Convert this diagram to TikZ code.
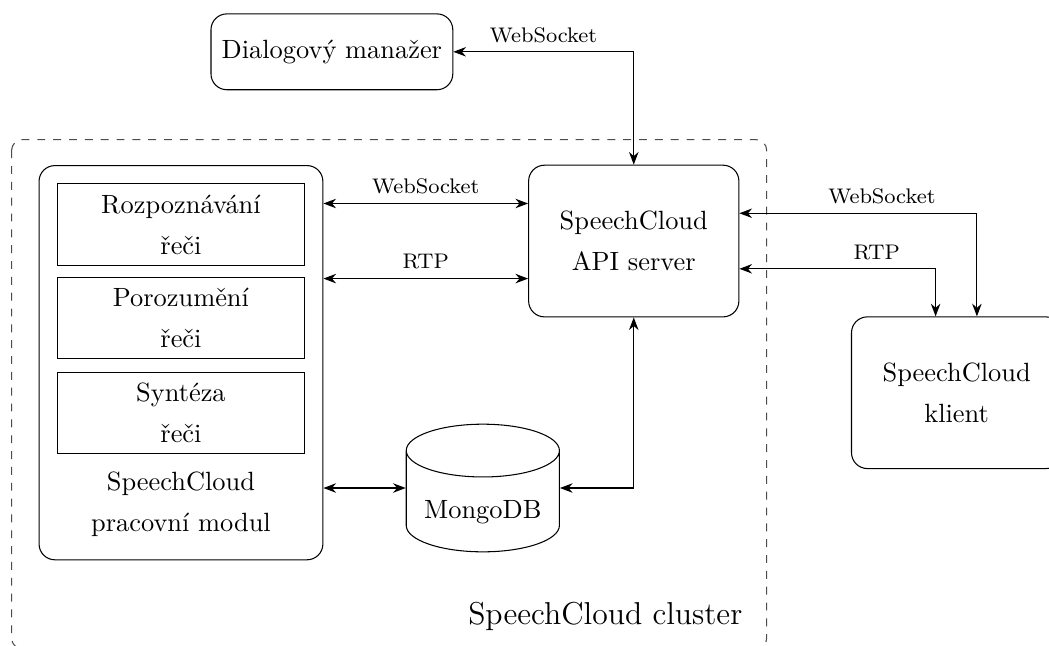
\documentclass[tikz,border=0pt]{standalone}
\usepackage{fontspec}
\usetikzlibrary{arrows.meta,shapes.geometric}

\tikzset{
  box/.style={draw, rounded corners=6pt, align=center},
  part/.style={draw, minimum width=3.30cm, minimum height=1.08cm, align=center},
  conn/.style={<->, >={Stealth}},
  lbl/.style={font=\footnotesize, above}
}

\begin{document}
\begin{tikzpicture}
        \useasboundingbox (0,0) rectangle (13.97,-8.60);
        \draw[dashed, black!70, rounded corners=4pt] (0.155,-1.86) rectangle (10.21,-8.64);
        \node[anchor=base east, font=\large] (clusterlbl) at (10.01,-8.31) {SpeechCloud cluster};

        \node[box, minimum width=3.22cm, minimum height=1.01cm] (dialog) at (4.42,-0.69) {Dialogový manažer};
        \node[box, minimum width=2.80cm, minimum height=2.02cm] (api) at (8.44,-3.21) {SpeechCloud\\[3.5pt]API server};
        \node[box, minimum width=2.80cm, minimum height=2.02cm] (klient) at (12.74,-5.23) {SpeechCloud\\[3.5pt]klient};

        \node[box, minimum width=3.78cm, minimum height=5.25cm] (worker) at (2.41,-4.83) {};
        \node[part] (asr) at (2.41,-2.99) {Rozpoznávání\\[3.5pt]řeči};
        \node[part] (nlu) at (2.41,-4.24) {Porozumění\\[3.5pt]řeči};
        \node[part] (tts) at (2.41,-5.50) {Syntéza\\[3.5pt]řeči};
        \node[align=center] (workerlbl) at (2.41,-6.72) {SpeechCloud\\[3.5pt]pracovní modul};

        % databaze
        \node[draw, cylinder, shape border rotate=90, aspect=3.0, minimum width=2.04cm, minimum height=1.70cm] (mongo) at (6.43,-6.76) {};
        \node (mongolbl) at (6.43,-6.82) {MongoDB};
        \coordinate (mongomid) at (mongo.shape center);

        \coordinate (wsin) at ([yshift=0.5cm]api.west);
        \coordinate (rtpin) at ([yshift=-0.5cm]api.west);
        \coordinate (wsout) at ([yshift=0.37cm]api.east);
        \coordinate (rtpout) at ([yshift=-0.37cm]api.east);
        \coordinate (wsend) at ([xshift=0.27cm]klient.north);
        \coordinate (rtpend) at ([xshift=-0.28cm]klient.north);

        \draw[conn] (dialog.east) -| node[lbl, pos=0.25] {WebSocket} (api.north);
        \draw[conn] (wsin -| worker.east) -- node[lbl] {WebSocket} (wsin);
        \draw[conn] (rtpin -| worker.east) -- node[lbl] {RTP} (rtpin);
        \draw[conn] (mongomid -| worker.east) -- (mongomid -| mongo.west);
        \draw[conn] (mongomid -| mongo.east) -| (api.south);
        \draw[conn] (wsout) -| node[lbl, pos=0.3] {WebSocket} (wsend);
        \draw[conn] (rtpout) -| node[lbl, pos=0.35] {RTP} (rtpend);
    \end{tikzpicture}
\end{document}
